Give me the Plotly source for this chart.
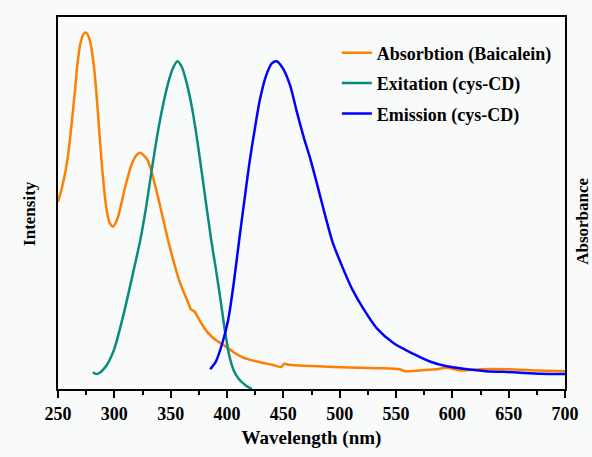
import plotly.graph_objects as go

# Absorption (Baicalein)
abs_wl = [250, 253, 256, 259, 262, 265, 267.5, 270, 272.5, 275, 278, 280, 282.5, 285, 289, 293, 296, 299,
          303, 309, 315, 320, 323, 329, 333, 340, 349, 358, 365, 368, 371, 376, 382, 390, 397, 405, 412,
          420, 432, 440, 448, 451, 455, 480, 509, 536, 553, 558, 571, 585, 595, 607, 625, 650, 675, 700]
abs_val = [50.3, 53.5, 57.5, 63.0, 71.0, 80.0, 88.0, 93.0, 95.3, 95.8, 94.0, 91.0, 85.0, 76.0, 60.0, 48.5,
           44.5, 43.7, 46.0, 53.5, 60.1, 63.0, 63.5, 61.8, 58.5, 50.0, 38.4, 28.8, 23.6, 21.4, 20.9, 18.3,
           15.5, 13.2, 11.8, 10.1, 8.8, 7.9, 7.0, 6.5, 5.9, 6.8, 6.5, 6.1, 5.8, 5.6, 5.3, 4.8, 5.0, 5.3,
           5.7, 5.0, 5.3, 5.3, 5.0, 4.8]

# Excitation (cys-CD)
exc_wl = [281, 284, 288, 293, 300, 308, 315, 323, 328, 333, 338, 343, 348, 352, 356, 360, 364, 369, 374,
          380, 386, 390, 394, 398, 402, 406, 411, 417, 422]
exc_val = [4.5, 4.0, 4.6, 6.3, 10.8, 19.8, 29.0, 40.0, 48.5, 58.5, 68.0, 76.0, 82.5, 86.2, 88.1, 86.5,
           82.5, 75.5, 66.0, 53.0, 40.0, 32.5, 24.5, 16.0, 9.0, 5.0, 2.5, 0.9, 0.0]

# Emission (cys-CD)
emi_wl = [385, 390, 396, 401, 406, 411, 416, 420, 425, 429, 435, 440, 444, 450, 456, 462, 468, 474, 480,
          487, 494, 502, 511, 521, 533, 548, 565, 580, 595, 613, 630, 654, 678, 700]
emi_val = [5.3, 7.3, 12.5, 18.5, 28.5, 40.5, 52.0, 61.0, 70.5, 77.5, 84.5, 87.6, 88.1, 86.0, 81.6, 74.5,
           67.8, 61.8, 55.0, 46.8, 39.2, 33.1, 26.9, 21.6, 16.3, 12.3, 9.5, 7.4, 6.1, 5.3, 4.8, 4.5,
           4.1, 4.0]

x_ticks = [250, 300, 350, 400, 450, 500, 550, 600, 650, 700]

FONT = "Liberation Serif"

fig = go.Figure()
series = [
    ("Absorbtion (Baicalein)", abs_wl, abs_val, "#ff7f00"),
    ("Exitation (cys-CD)", exc_wl, exc_val, "#0a8a80"),
    ("Emission (cys-CD)", emi_wl, emi_val, "#0000ff"),
]
for i, (name, x, y, c) in enumerate(series):
    fig.add_trace(go.Scatter(
        x=x, y=y, mode="lines", name=f"<b>{name}</b>",
        line=dict(color=c, width=2.5, shape="spline", smoothing=0.7),
        legendgroup=f"g{i}",
    ))

bg = "#f9fafa"
fig.update_layout(
    width=592, height=457,
    margin=dict(l=58, r=27, t=17, b=62),
    paper_bgcolor=bg, plot_bgcolor=bg,
    font=dict(family=FONT, color="black"),
    showlegend=True,
    legend=dict(
        x=0.55, y=0.953, xanchor="left", yanchor="top",
        bgcolor="rgba(0,0,0,0)", font=dict(family=FONT, size=18, color="black"),
        traceorder="grouped", tracegroupgap=4,
    ),
    xaxis=dict(
        range=[250, 700], tickvals=x_ticks, ticktext=[f"<b>{t}</b>" for t in x_ticks],
        ticks="outside", ticklen=7, tickwidth=2, tickcolor="black",
        minor=dict(dtick=25, tick0=250, ticks="outside", ticklen=4, tickwidth=2, tickcolor="black"),
        showline=True, linecolor="black", linewidth=2, mirror=True,
        showgrid=False, zeroline=False,
        tickfont=dict(family=FONT, size=18, color="black"),
        title=dict(text="<b>Wavelength (nm)</b>", font=dict(family=FONT, size=19, color="black"), standoff=8),
    ),
    yaxis=dict(
        range=[0, 100], showticklabels=False, ticks="",
        showline=True, linecolor="black", linewidth=2, mirror=True,
        showgrid=False, zeroline=False,
    ),
    annotations=[
        dict(text="<b>Intensity</b>", xref="paper", yref="paper", x=-0.055, y=0.471,
             xanchor="center", yanchor="middle", textangle=-90, showarrow=False,
             font=dict(family=FONT, size=17, color="black")),
        dict(text="<b>Absorbance</b>", xref="paper", yref="paper", x=1.034, y=0.45,
             xanchor="center", yanchor="middle", textangle=-90, showarrow=False,
             font=dict(family=FONT, size=17, color="black")),
    ],
)

fig.write_html("out.html")
